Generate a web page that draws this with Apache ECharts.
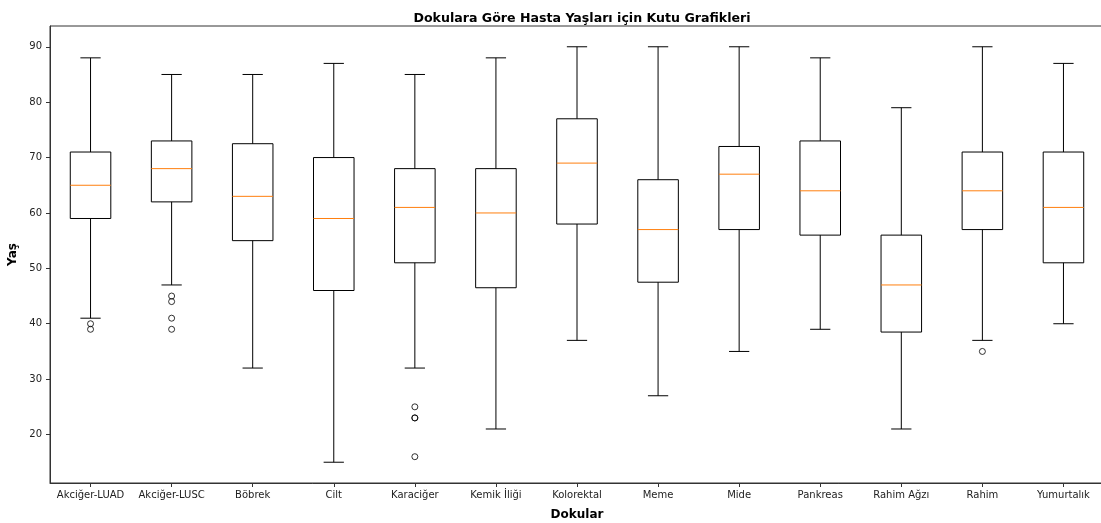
<!DOCTYPE html>
<html>
<head>
<meta charset="utf-8">
<script src="https://cdn.jsdelivr.net/npm/echarts@6/dist/echarts.min.js"></script>
<style>
  html, body { margin: 0; padding: 0; background: #fff; }
  #chart { width: 1101px; height: 523px; }
</style>
</head>
<body>
<div id="chart"></div>
<script>
// Tissue types on the x axis
const tissues = ['Akciğer-LUAD', 'Akciğer-LUSC', 'Böbrek', 'Cilt', 'Karaciğer', 'Kemik İliği',
  'Kolorektal', 'Meme', 'Mide', 'Pankreas', 'Rahim Ağzı', 'Rahim', 'Yumurtalık'];

// Five-number summaries per tissue (lower whisker, Q1, median, Q3, upper whisker)
const whiskerLow = [41, 47, 32, 15, 32, 21, 37, 27, 35, 39, 21, 37, 40];
const q1         = [59, 62, 55, 46, 51, 46.5, 58, 47.5, 57, 56, 38.5, 57, 51];
const medians    = [65, 68, 63, 59, 61, 60, 69, 57, 67, 64, 47, 64, 61];
const q3         = [71, 73, 72.5, 70, 68, 68, 77, 66, 72, 73, 56, 71, 71];
const whiskerHigh = [88, 85, 85, 87, 85, 88, 90, 90, 90, 88, 79, 90, 87];

// Outlying ages: [tissue index, age]
const outliers = [
  [0, 40], [0, 39],
  [1, 45], [1, 44], [1, 41], [1, 39],
  [4, 25], [4, 23], [4, 23], [4, 16],
  [11, 35]
];

// Y axis ticks
const yTicks = [20, 30, 40, 50, 60, 70, 80, 90];

const boxData = tissues.map((_, i) => [i, whiskerLow[i], q1[i], medians[i], q3[i], whiskerHigh[i]]);

const font = 'DejaVu Sans';

function renderBox(params, api) {
  const idx = api.value(0);
  const band = api.size([1, 0])[0];
  const half = band * 0.25;       // half box width
  const capHalf = band * 0.125;   // half cap width
  const xc = api.coord([idx, 0])[0];
  const yLow = api.coord([idx, api.value(1)])[1];
  const yQ1 = api.coord([idx, api.value(2)])[1];
  const yMed = api.coord([idx, api.value(3)])[1];
  const yQ3 = api.coord([idx, api.value(4)])[1];
  const yHigh = api.coord([idx, api.value(5)])[1];
  const black = { stroke: '#000', lineWidth: 1, fill: null };
  return {
    type: 'group',
    children: [
      { type: 'line', shape: { x1: xc, y1: yQ3, x2: xc, y2: yHigh }, style: black },
      { type: 'line', shape: { x1: xc, y1: yQ1, x2: xc, y2: yLow }, style: black },
      { type: 'line', shape: { x1: xc - capHalf, y1: yHigh, x2: xc + capHalf, y2: yHigh }, style: black },
      { type: 'line', shape: { x1: xc - capHalf, y1: yLow, x2: xc + capHalf, y2: yLow }, style: black },
      { type: 'rect', shape: { x: xc - half, y: yQ3, width: half * 2, height: yQ1 - yQ3 }, style: black },
      { type: 'line', shape: { x1: xc - half, y1: yMed, x2: xc + half, y2: yMed },
        style: { stroke: '#ff7f0e', lineWidth: 1 } }
    ]
  };
}

const chart = echarts.init(document.getElementById('chart'), null, { renderer: 'canvas' });
chart.setOption({
  animation: false,
  backgroundColor: '#fff',
  textStyle: { fontFamily: font },
  title: {
    text: 'Dokulara Göre Hasta Yaşları için Kutu Grafikleri',
    left: 577, top: 7, textAlign: 'center',
    textStyle: { fontFamily: font, fontSize: 12.6, fontWeight: 'bold', color: '#000' }
  },
  grid: {
    left: 50, top: 26, width: 1054, bottom: 40,
    outerBoundsMode: 'none',
    containLabel: false,
    show: true, borderColor: '#333', borderWidth: 1, backgroundColor: 'transparent'
  },
  xAxis: {
    type: 'category',
    data: tissues,
    boundaryGap: true,
    name: 'Dokular',
    nameLocation: 'middle',
    nameGap: 26,
    nameTextStyle: { fontFamily: font, fontSize: 12, fontWeight: 'bold', color: '#000' },
    axisLine: { show: true, lineStyle: { color: '#333', width: 1 } },
    axisTick: { show: true, alignWithLabel: true, length: 4, lineStyle: { color: '#333' } },
    axisLabel: { interval: 0, margin: 7, fontFamily: font, fontSize: 10, color: '#222' },
    splitLine: { show: false }
  },
  yAxis: {
    type: 'value',
    min: 11.25,
    max: 93.75,
    name: 'Yaş',
    nameLocation: 'middle',
    nameGap: 27,
    nameRotate: 90,
    nameTextStyle: { fontFamily: font, fontSize: 12, fontWeight: 'bold', color: '#000' },
    axisLine: { show: true, lineStyle: { color: '#333', width: 1 } },
    axisTick: { show: true, length: 4, customValues: yTicks, lineStyle: { color: '#333' } },
    axisLabel: { customValues: yTicks, margin: 8, fontFamily: font, fontSize: 10, color: '#222' },
    splitLine: { show: false }
  },
  series: [
    {
      type: 'custom',
      renderItem: renderBox,
      encode: { x: 0, y: [1, 2, 3, 4, 5] },
      data: boxData,
      z: 2
    },
    {
      type: 'scatter',
      data: outliers,
      symbol: 'circle',
      symbolSize: 6,
      itemStyle: { color: 'transparent', borderColor: '#000', borderWidth: 1 },
      z: 3
    }
  ]
});
</script>
</body>
</html>
